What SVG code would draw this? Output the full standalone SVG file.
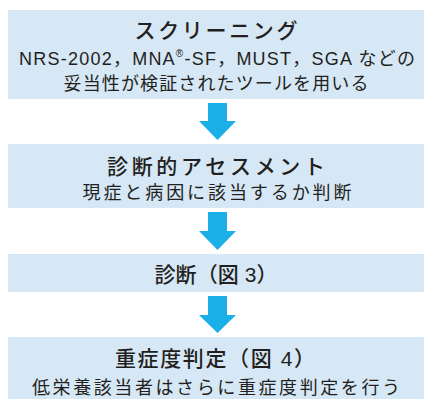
<svg xmlns="http://www.w3.org/2000/svg" width="424" height="399" viewBox="0 0 424 399">
<style>
.box{fill:#d6e7f5}
.arr{fill:#1aafe6}
text{font-family:"Liberation Sans","Noto Sans CJK JP",sans-serif;fill:#231f20;text-anchor:middle}
.t{font-size:21px;font-weight:500}
.s{font-size:18px}
</style>
<g id="node1">
<rect class="box" x="8" y="10" width="416" height="89"/>
<text class="t" x="216" y="38" textLength="163" lengthAdjust="spacing">スクリーニング</text>
<text class="s" x="217" y="65" font-size="19" textLength="396" lengthAdjust="spacing">NRS-2002，MNA<tspan font-size="10" dy="-8">®</tspan><tspan dy="8">-SF，MUST，SGA などの</tspan></text>
<text class="s" x="216" y="90" textLength="305" lengthAdjust="spacing">妥当性が検証されたツールを用いる</text>
</g>
<g id="node2">
<rect class="box" x="8" y="144" width="416" height="64"/>
<text class="t" x="216" y="174" textLength="218" lengthAdjust="spacing">診断的アセスメント</text>
<text class="s" x="217" y="199" textLength="269" lengthAdjust="spacing">現症と病因に該当するか判断</text>
</g>
<g id="node3">
<rect class="box" x="8" y="254" width="416" height="38"/>
<text class="t" x="216" y="282" textLength="123" lengthAdjust="spacing">診断（図 3）</text>
</g>
<g id="node4">
<rect class="box" x="8" y="337" width="416" height="62"/>
<text class="t" x="215" y="366" textLength="200" lengthAdjust="spacing">重症度判定（図 4）</text>
<text class="s" x="216" y="394" textLength="368" lengthAdjust="spacing">低栄養該当者はさらに重症度判定を行う</text>
</g>
<g id="connectors">
<path class="arr" d="M208,103H227V121H236L217.5,140L199,121H208Z"/>
<path class="arr" d="M208,212H227V231H236L217.5,250L199,231H208Z"/>
<path class="arr" d="M208,296H227V315H236L217.5,333L199,315H208Z"/>
</g>
</svg>
